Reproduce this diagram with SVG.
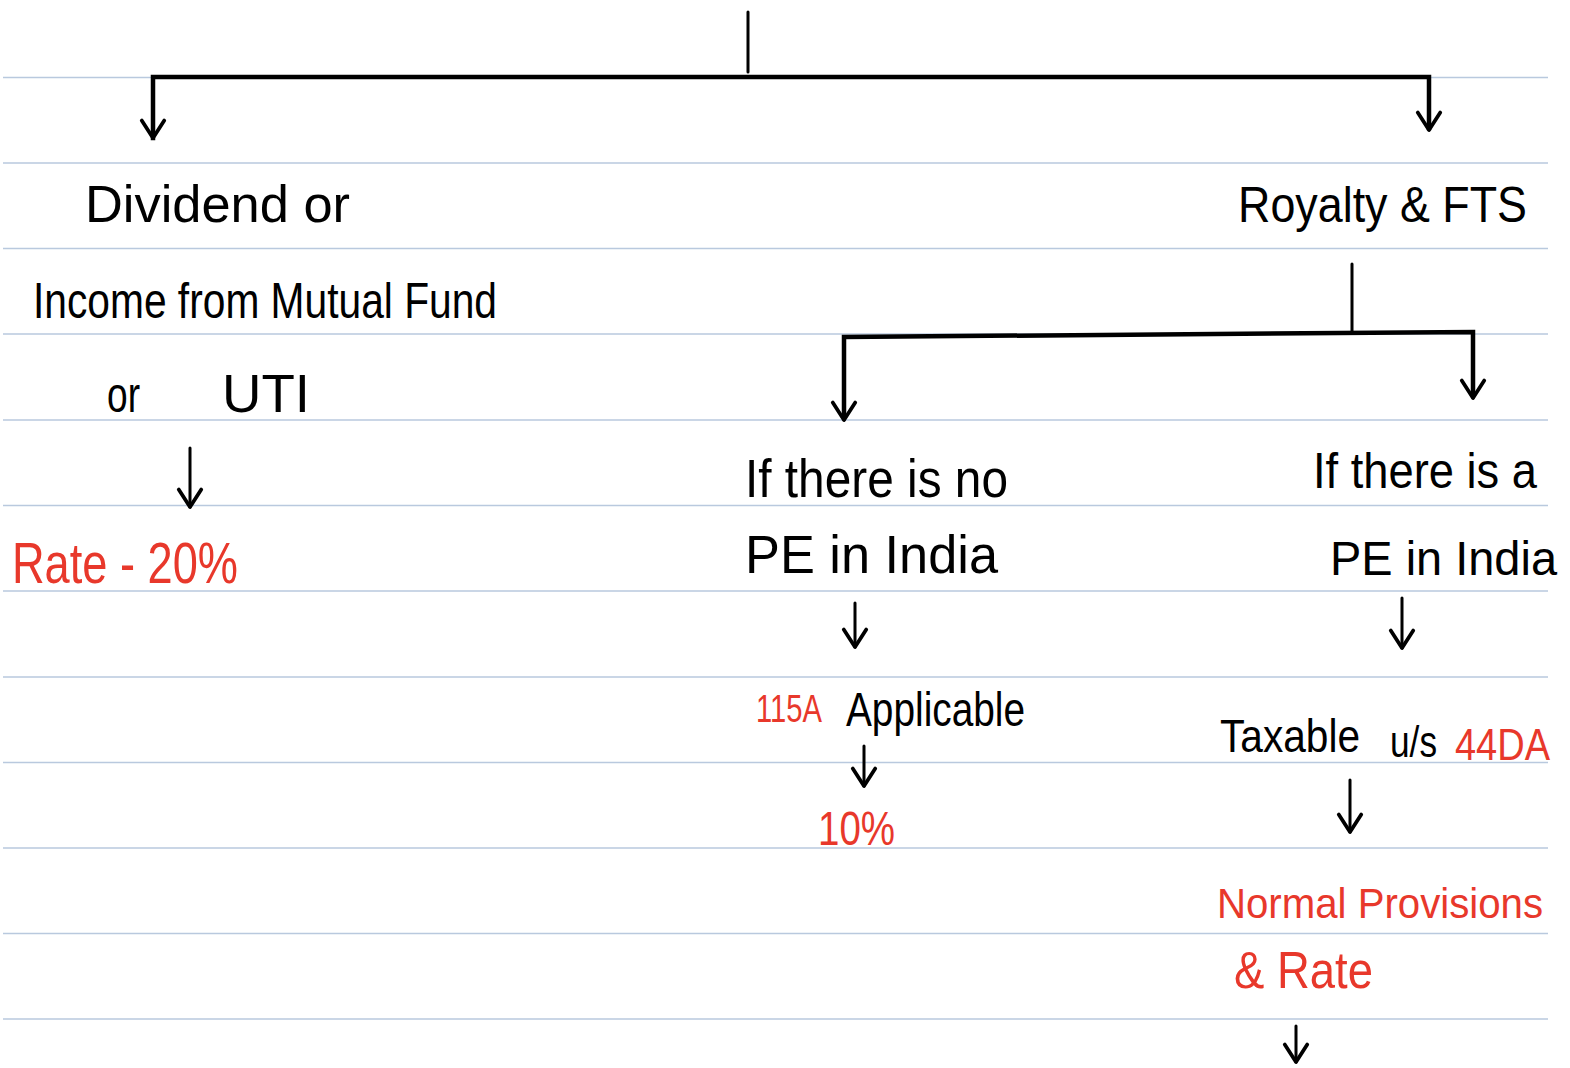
<svg xmlns="http://www.w3.org/2000/svg" width="1570" height="1068" viewBox="0 0 1570 1068">
<style>
.rule{stroke:#b9c9de;stroke-width:1.5;fill:none}
.ln{stroke:#000;stroke-width:3;fill:none;stroke-linecap:round}
.bar{stroke:#000;stroke-width:4.5;fill:none;stroke-linecap:square}
.t{font-family:"Liberation Sans",Arial,sans-serif;fill:#000}
.r{fill:#e8382b}
</style>
<defs>
<marker id="ah" markerUnits="userSpaceOnUse" markerWidth="30" markerHeight="30" viewBox="-16 -12 20 24" refX="0" refY="0" orient="auto" overflow="visible">
<path d="M-14,-9 L0,0 L-14,9" fill="none" stroke="#000" stroke-width="3" stroke-linecap="round" stroke-linejoin="round"/>
</marker>
</defs>
<rect width="1570" height="1068" fill="#fff"/>
<g id="ruling">
<line class="rule" x1="3" y1="77.5" x2="1548" y2="77.5"/>
<line class="rule" x1="3" y1="163" x2="1548" y2="163"/>
<line class="rule" x1="3" y1="248.5" x2="1548" y2="248.5"/>
<line class="rule" x1="3" y1="334" x2="1548" y2="334"/>
<line class="rule" x1="3" y1="420" x2="1548" y2="420"/>
<line class="rule" x1="3" y1="505.5" x2="1548" y2="505.5"/>
<line class="rule" x1="3" y1="591" x2="1548" y2="591"/>
<line class="rule" x1="3" y1="677" x2="1548" y2="677"/>
<line class="rule" x1="3" y1="762.5" x2="1548" y2="762.5"/>
<line class="rule" x1="3" y1="848" x2="1548" y2="848"/>
<line class="rule" x1="3" y1="933.5" x2="1548" y2="933.5"/>
<line class="rule" x1="3" y1="1019" x2="1548" y2="1019"/>
</g>
<g id="connectors">
<line class="ln" x1="748" y1="12" x2="748" y2="72"/>
<polyline class="bar" points="153,138 153,77 1429,77 1429,128"/>
<line class="ln" x1="153" y1="90" x2="153" y2="138" marker-end="url(#ah)"/>
<line class="ln" x1="1429" y1="90" x2="1429" y2="130" marker-end="url(#ah)"/>
<line class="ln" x1="1352" y1="264" x2="1352" y2="332"/>
<polyline class="bar" points="844,415 844,337 1473,332 1473,395"/>
<line class="ln" x1="844" y1="350" x2="844" y2="420" marker-end="url(#ah)"/>
<line class="ln" x1="1473" y1="345" x2="1473" y2="398" marker-end="url(#ah)"/>
<line class="ln" x1="190" y1="448" x2="190" y2="507" marker-end="url(#ah)"/>
<line class="ln" x1="855" y1="603" x2="855" y2="647" marker-end="url(#ah)"/>
<line class="ln" x1="1402" y1="598" x2="1402" y2="648" marker-end="url(#ah)"/>
<line class="ln" x1="864" y1="746" x2="864" y2="786" marker-end="url(#ah)"/>
<line class="ln" x1="1350" y1="780" x2="1350" y2="832" marker-end="url(#ah)"/>
<line class="ln" x1="1296" y1="1026" x2="1296" y2="1062" marker-end="url(#ah)"/>
</g>
<g id="node-dividend">
<text class="t" x="85" y="222" font-size="52" textLength="265" lengthAdjust="spacingAndGlyphs">Dividend or</text>
<text class="t" x="33" y="318" font-size="50" textLength="464" lengthAdjust="spacingAndGlyphs">Income from Mutual Fund</text>
<text class="t" x="107" y="412" font-size="50" textLength="33" lengthAdjust="spacingAndGlyphs">or</text>
<text class="t" x="222" y="412" font-size="54" textLength="88" lengthAdjust="spacingAndGlyphs">UTI</text>
</g>
<g id="node-rate20">
<text class="t r" x="12" y="583" font-size="58" textLength="226" lengthAdjust="spacingAndGlyphs">Rate - 20%</text>
</g>
<g id="node-royalty">
<text class="t" x="1238" y="222" font-size="50" textLength="289" lengthAdjust="spacingAndGlyphs">Royalty &amp; FTS</text>
</g>
<g id="node-no-pe">
<text class="t" x="745" y="497" font-size="54" textLength="263" lengthAdjust="spacingAndGlyphs">If there is no</text>
<text class="t" x="745" y="573" font-size="54" textLength="253" lengthAdjust="spacingAndGlyphs">PE in India</text>
</g>
<g id="node-pe">
<text class="t" x="1313" y="488" font-size="50" textLength="224" lengthAdjust="spacingAndGlyphs">If there is a</text>
<text class="t" x="1330" y="575" font-size="48" textLength="227" lengthAdjust="spacingAndGlyphs">PE in India</text>
</g>
<g id="node-115a">
<text class="t r" x="756" y="722" font-size="38" textLength="66" lengthAdjust="spacingAndGlyphs">115A</text>
<text class="t" x="846" y="726" font-size="48" textLength="179" lengthAdjust="spacingAndGlyphs">Applicable</text>
</g>
<g id="node-10">
<text class="t r" x="818" y="845" font-size="48" textLength="77" lengthAdjust="spacingAndGlyphs">10%</text>
</g>
<g id="node-44da">
<text class="t" x="1220" y="752" font-size="47" textLength="140" lengthAdjust="spacingAndGlyphs">Taxable</text>
<text class="t" x="1390" y="757" font-size="44" textLength="47" lengthAdjust="spacingAndGlyphs">u/s</text>
<text class="t r" x="1455" y="760" font-size="44" textLength="95" lengthAdjust="spacingAndGlyphs">44DA</text>
</g>
<g id="node-normal">
<text class="t r" x="1217" y="918" font-size="43" textLength="326" lengthAdjust="spacingAndGlyphs">Normal Provisions</text>
<text class="t r" x="1234" y="988" font-size="52" textLength="139" lengthAdjust="spacingAndGlyphs">&amp; Rate</text>
</g>
</svg>
